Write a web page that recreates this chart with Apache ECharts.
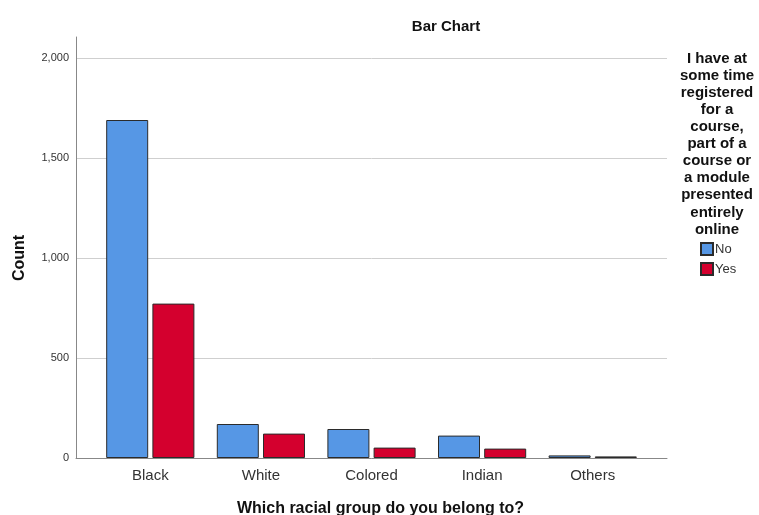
<!DOCTYPE html>
<html>
<head>
<meta charset="utf-8">
<script src="https://cdn.jsdelivr.net/npm/echarts@6/dist/echarts.min.js"></script>
<style>
  html, body { margin: 0; padding: 0; background: #fff; }
  #chart { width: 759px; height: 515px; }
</style>
</head>
<body>
<div id="chart"></div>
<script>
// Racial group categories and counts per answer
const categories = ['Black', 'White', 'Colored', 'Indian', 'Others'];
const countNo = [1690, 170, 145, 112, 13];
const countYes = [772, 122, 52, 47, 8];
const seriesNames = ['No', 'Yes'];
const yTicks = [0, 500, 1000, 1500, 2000];

const FONT = '"Liberation Sans", Arial, sans-serif';
const yMax = yTicks[yTicks.length - 1];
const yInterval = yTicks[1] - yTicks[0];

const chart = echarts.init(document.getElementById('chart'));

const outline = { borderColor: '#2b2b2b', borderWidth: 1 };

chart.setOption({
  animation: false,
  backgroundColor: '#ffffff',
  textStyle: { fontFamily: FONT },
  title: [
    {
      text: 'Bar Chart',
      left: 441, top: 14, textAlign: 'center',
      textStyle: { fontSize: 15, fontWeight: 'bold', color: '#111', fontFamily: FONT }
    },
    {
      text: 'I have at\nsome time\nregistered\nfor a\ncourse,\npart of a\ncourse or\na module\npresented\nentirely\nonline',
      left: 712, top: 45, textAlign: 'center',
      textStyle: { fontSize: 15, fontWeight: 'bold', color: '#111', lineHeight: 17.1, fontFamily: FONT }
    }
  ],
  legend: {
    data: seriesNames,
    orient: 'vertical',
    left: 695, top: 237,
    itemWidth: 12, itemHeight: 12, itemGap: 6,
    icon: 'rect',
    textStyle: { fontSize: 13, color: '#333', padding: [0, 0, 0, -3], fontFamily: FONT }
  },
  grid: [
    // gridlines, y labels and baseline
    { left: 76, right: 92, top: 58, bottom: 57, outerBoundsMode: 'none', containLabel: false },
    // full-height vertical axis line
    { left: 76, right: 92, top: 37, bottom: 57, outerBoundsMode: 'none', containLabel: false },
    // bars
    { left: 95, right: 111, top: 58, bottom: 57, outerBoundsMode: 'none', containLabel: false }
  ],
  xAxis: [
    {
      gridIndex: 0, type: 'category', data: categories,
      axisLine: { show: true, lineStyle: { color: '#888', width: 1 } },
      axisTick: { show: false }, axisLabel: { show: false }, splitLine: { show: false },
      name: 'Which racial group do you belong to?',
      nameLocation: 'middle', nameGap: 43,
      nameTextStyle: { fontSize: 16, fontWeight: 'bold', color: '#111', fontFamily: FONT, padding: [0, 0, 0, 18] }
    },
    {
      gridIndex: 1, type: 'category', data: categories, show: false
    },
    {
      gridIndex: 2, type: 'category', data: categories,
      axisLine: { show: false }, axisTick: { show: false },
      axisLabel: { fontSize: 15, color: '#333', margin: 10, fontFamily: FONT }
    }
  ],
  yAxis: [
    {
      gridIndex: 0, type: 'value', min: 0, max: yMax, interval: yInterval,
      axisLine: { show: false }, axisTick: { show: false },
      axisLabel: {
        fontSize: 11, color: '#333', margin: 7, fontFamily: FONT,
        formatter: v => v.toLocaleString('en-US')
      },
      splitLine: { show: true, lineStyle: { color: '#cfcfcf', width: 1 } },
      name: 'Count', nameLocation: 'middle', nameGap: 48, nameRotate: 90,
      nameTextStyle: { fontSize: 16, fontWeight: 'bold', color: '#111', fontFamily: FONT }
    },
    {
      gridIndex: 1, type: 'value', min: 0, max: 1,
      axisLine: { show: true, lineStyle: { color: '#888', width: 1 } },
      axisTick: { show: false }, axisLabel: { show: false }, splitLine: { show: false }
    },
    {
      gridIndex: 2, type: 'value', min: 0, max: yMax, interval: yInterval, show: false,
      splitLine: { show: false }
    }
  ],
  series: [
    {
      name: seriesNames[0], type: 'bar', xAxisIndex: 2, yAxisIndex: 2,
      data: countNo, barWidth: 42, barGap: '10%',
      itemStyle: Object.assign({ color: '#5697e5' }, outline)
    },
    {
      name: seriesNames[1], type: 'bar', xAxisIndex: 2, yAxisIndex: 2,
      data: countYes, barWidth: 42, barGap: '10%',
      itemStyle: Object.assign({ color: '#d4002e' }, outline)
    }
  ]
});
</script>
</body>
</html>
